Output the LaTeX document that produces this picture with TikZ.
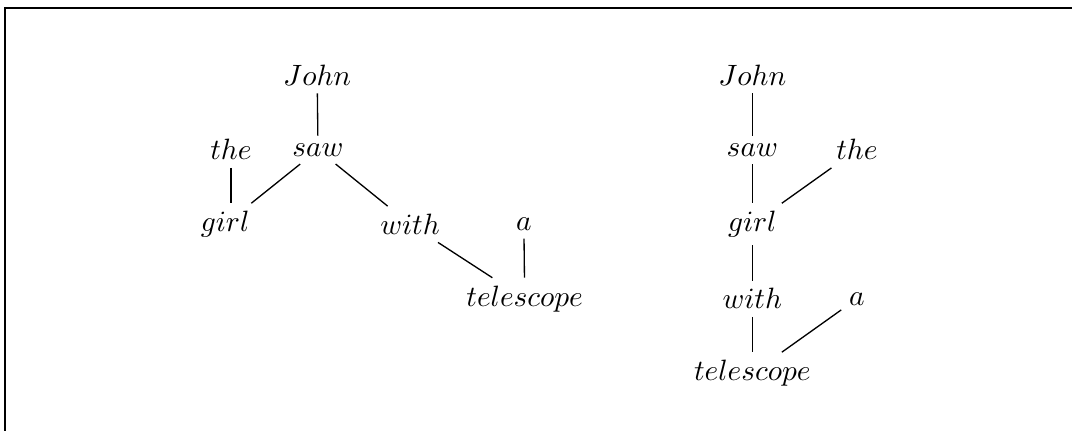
\documentclass[tikz,border=0pt]{standalone}
\usepackage{amsmath,amssymb}
\usepackage{tikz}
\usetikzlibrary{positioning}

\begin{document}
\begin{tikzpicture}[
      wNode/.style={inner sep=2.5pt,font=\normalsize},
      ln/.style={line width=0.45pt,color=black}
    ]
    \useasboundingbox (0,0) rectangle (12.81,5.15);

    % Frame (only top and left edges fall inside the page)
    \draw[ln] (0.06,-1) -- (0.06,5.055) -- (13.5,5.055);

    % Left tree
    \node(lJohn)[wNode] at (3.79, 4.25) {$John$};
    \node(lThe)[wNode] at (2.76, 3.36) {$the$};
    \node(lSaw)[wNode] at (3.80, 3.36) {$saw$};
    \node(lGirl)[wNode] at (2.69, 2.47) {$girl$};
    \node(lWith)[wNode] at (4.90, 2.47) {$with$};
    \node(lA)[wNode] at (6.26, 2.47) {$a$};
    \node(lTel)[wNode] at (6.27, 1.58) {$telescope$};

    \draw[ln] (lJohn) -- (lSaw);
    \draw[ln] (lThe.south) -- (lThe.south |- lGirl.north);
    \draw[ln] (lSaw) -- (lGirl);
    \draw[ln] (lSaw) -- (lWith);
    \draw[ln] (lWith) -- (lTel);
    \draw[ln] (lA) -- (lTel);

    % Right tree
    \node(rJohn)[wNode] at (8.99, 4.25) {$John$};
    \node(rSaw)[wNode] at (8.99, 3.36) {$saw$};
    \node(rThe)[wNode] at (10.24, 3.36) {$the$};
    \node(rGirl)[wNode] at (8.99, 2.47) {$girl$};
    \node(rWith)[wNode] at (8.99, 1.58) {$with$};
    \node(rA)[wNode] at (10.24, 1.58) {$a$};
    \node(rTel)[wNode] at (8.99, 0.69) {$telescope$};

    \draw[ln] (rJohn) -- (rSaw);
    \draw[ln] (rSaw) -- (rGirl);
    \draw[ln] (rThe) -- (rGirl);
    \draw[ln] (rGirl) -- (rWith);
    \draw[ln] (rWith) -- (rTel);
    \draw[ln] (rA) -- (rTel);
  \end{tikzpicture}
\end{document}
